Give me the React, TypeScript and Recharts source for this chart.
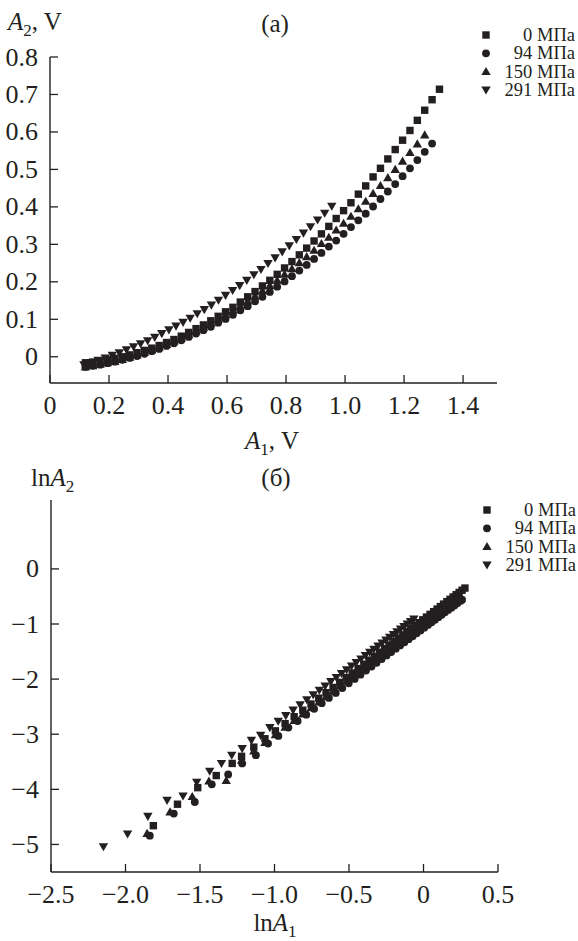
import { ScatterChart, Scatter, XAxis, YAxis } from 'recharts'

const INK = '#231f20'
const FONT = '"Liberation Serif", "Times New Roman", serif'

const pressures = ['0 МПа', '94 МПа', '150 МПа', '291 МПа']

// panel (a): A1 steps shared by 0 / 94 / 150 MPa
const a1Steps = [
  0.12, 0.145, 0.17, 0.195, 0.22, 0.245, 0.27, 0.295, 0.32, 0.345, 0.37, 0.395, 0.42, 0.445, 0.47, 0.495,
  0.52, 0.545, 0.57, 0.595, 0.62, 0.645, 0.67, 0.695, 0.72, 0.745, 0.77, 0.795, 0.82, 0.845, 0.87, 0.895,
  0.92, 0.945, 0.97, 0.995, 1.02, 1.045, 1.07, 1.095, 1.12, 1.145, 1.17, 1.195, 1.22, 1.245, 1.27, 1.295, 1.32,
]
const a2At0 = [
  -0.016, -0.014, -0.012, -0.008, -0.004, 0.0, 0.005, 0.011, 0.017, 0.023, 0.03, 0.038, 0.046, 0.055, 0.065, 0.075,
  0.085, 0.096, 0.108, 0.12, 0.132, 0.146, 0.16, 0.174, 0.189, 0.204, 0.22, 0.237, 0.254, 0.272, 0.29, 0.309,
  0.328, 0.348, 0.369, 0.39, 0.411, 0.434, 0.456, 0.48, 0.503, 0.528, 0.553, 0.578, 0.604, 0.631, 0.658, 0.686, 0.714,
]
const a2At94 = [
  -0.027, -0.024, -0.021, -0.017, -0.013, -0.008, -0.003, 0.002, 0.008, 0.015, 0.021, 0.029, 0.036, 0.044, 0.053, 0.062,
  0.071, 0.08, 0.091, 0.101, 0.112, 0.124, 0.135, 0.148, 0.16, 0.173, 0.187, 0.201, 0.215, 0.23, 0.245, 0.261,
  0.277, 0.294, 0.31, 0.328, 0.346, 0.364, 0.382, 0.401, 0.421, 0.441, 0.461, 0.482, 0.503, 0.525, 0.547, 0.569,
]
const a2At150 = [
  -0.027, -0.024, -0.02, -0.016, -0.012, -0.007, -0.001, 0.005, 0.012, 0.018, 0.026, 0.033, 0.042, 0.05, 0.059, 0.069,
  0.079, 0.09, 0.101, 0.112, 0.124, 0.136, 0.149, 0.162, 0.176, 0.19, 0.204, 0.22, 0.235, 0.251, 0.267, 0.284,
  0.302, 0.319, 0.338, 0.356, 0.375, 0.395, 0.415, 0.436, 0.457, 0.478, 0.5, 0.522, 0.545, 0.568, 0.592,
]
const a1At291 = [
  0.115, 0.139, 0.163, 0.187, 0.211, 0.235, 0.259, 0.283, 0.307, 0.331, 0.355, 0.379, 0.403, 0.427, 0.451, 0.475,
  0.499, 0.523, 0.547, 0.571, 0.595, 0.619, 0.643, 0.667, 0.691, 0.715, 0.739, 0.763, 0.787, 0.811, 0.835, 0.859,
  0.883, 0.907, 0.931, 0.955,
]
const a2At291 = [
  -0.021, -0.015, -0.009, -0.003, 0.004, 0.011, 0.019, 0.027, 0.035, 0.043, 0.052, 0.062, 0.072, 0.082, 0.092, 0.103,
  0.115, 0.126, 0.138, 0.151, 0.164, 0.177, 0.19, 0.204, 0.219, 0.233, 0.249, 0.264, 0.28, 0.296, 0.313, 0.33,
  0.347, 0.365, 0.383, 0.402,
]

// panel (б): lnA1 / lnA2
const lnA1At0 = [
  -1.813, -1.651, -1.515, -1.391, -1.284, -1.221, -1.139, -1.064, -0.994, -0.929, -0.868, -0.81, -0.755, -0.703, -0.654,
  -0.607, -0.562, -0.519, -0.478, -0.439, -0.4, -0.364, -0.329, -0.294, -0.261, -0.229, -0.198, -0.168, -0.139, -0.111,
  -0.083, -0.057, -0.03, -0.005, 0.02, 0.044, 0.068, 0.091, 0.113, 0.135, 0.157, 0.178, 0.199, 0.219, 0.239, 0.259, 0.278,
]
const lnA2At0 = [
  -4.66, -4.27, -3.97, -3.75, -3.53, -3.401, -3.234, -3.082, -2.939, -2.807, -2.682, -2.564, -2.452, -2.346, -2.246,
  -2.151, -2.059, -1.971, -1.888, -1.808, -1.729, -1.656, -1.584, -1.513, -1.446, -1.381, -1.318, -1.256, -1.197, -1.14,
  -1.083, -1.03, -0.975, -0.924, -0.874, -0.825, -0.776, -0.729, -0.684, -0.639, -0.594, -0.552, -0.509, -0.468, -0.427, -0.387, -0.348,
]
const lnA1At94 = [
  -1.837, -1.676, -1.535, -1.421, -1.311, -1.217, -1.125, -1.043, -0.974, -0.907, -0.845,
  -0.787, -0.734, -0.683, -0.635, -0.589, -0.545, -0.502, -0.462, -0.423, -0.386, -0.349, -0.315, -0.281, -0.248, -0.217,
  -0.186, -0.157, -0.128, -0.1, -0.073, -0.046, -0.02, 0.005, 0.03, 0.054, 0.077, 0.1, 0.122, 0.144, 0.166, 0.187, 0.207,
  0.227, 0.247, 0.259,
]
const lnA2At94 = [
  -4.84, -4.44, -4.23, -3.91, -3.73, -3.53, -3.38, -3.17, -3.03, -2.88, -2.76,
  -2.645, -2.539, -2.437, -2.342, -2.25, -2.162, -2.077, -1.997, -1.919, -1.845, -1.772, -1.704, -1.636, -1.57, -1.509,
  -1.447, -1.389, -1.331, -1.275, -1.222, -1.168, -1.116, -1.066, -1.016, -0.969, -0.923, -0.877, -0.833, -0.789, -0.745, -0.703, -0.664,
  -0.624, -0.584, -0.56,
]
const lnA1At150 = [
  -1.855, -1.701, -1.552, -1.44, -1.324,
  -1.221, -1.139, -1.064, -0.994, -0.929, -0.868, -0.81, -0.755, -0.703, -0.654, -0.607, -0.562, -0.519, -0.478, -0.439,
  -0.4, -0.364, -0.329, -0.294, -0.261, -0.229, -0.198, -0.168, -0.139, -0.111, -0.083, -0.057, -0.03, -0.005, 0.02,
  0.044, 0.068, 0.091, 0.113, 0.135, 0.157, 0.178, 0.199, 0.219, 0.239,
]
const lnA2At150 = [
  -4.8, -4.41, -4.13, -3.85, -3.84,
  -3.471, -3.304, -3.151, -3.008, -2.875, -2.751, -2.632, -2.52, -2.414, -2.314, -2.218, -2.126, -2.038, -1.954, -1.874,
  -1.795, -1.721, -1.65, -1.578, -1.511, -1.446, -1.382, -1.321, -1.262, -1.205, -1.148, -1.094, -1.039, -0.988, -0.937,
  -0.888, -0.839, -0.792, -0.747, -0.702, -0.657, -0.615, -0.572, -0.531, -0.49,
]
const lnA1At291 = [
  -2.148, -1.986, -1.85, -1.721, -1.614, -1.522, -1.435, -1.356, -1.287, -1.217, -1.155, -1.093, -1.031,
  -0.975, -0.924, -0.875, -0.828, -0.783, -0.74, -0.699, -0.66, -0.622, -0.585, -0.55, -0.516, -0.483, -0.451, -0.42,
  -0.39, -0.361, -0.333, -0.305, -0.278, -0.252, -0.227, -0.202, -0.178, -0.154, -0.131, -0.109, -0.087, -0.065,
]
const lnA2At291 = [
  -5.04, -4.81, -4.49, -4.2, -4.12, -3.87, -3.67, -3.53, -3.38, -3.26, -3.11, -3.02, -2.88,
  -2.765, -2.661, -2.561, -2.466, -2.374, -2.286, -2.202, -2.123, -2.045, -1.97, -1.898, -1.829, -1.762, -1.697, -1.633,
  -1.572, -1.513, -1.456, -1.399, -1.344, -1.291, -1.24, -1.189, -1.14, -1.091, -1.044, -0.999, -0.954, -0.909,
]

const topXTicks = [0, 0.2, 0.4, 0.6, 0.8, 1.0, 1.2, 1.4]
const topYTicks = [0, 0.1, 0.2, 0.3, 0.4, 0.5, 0.6, 0.7, 0.8]
const lnXTicks = [-2.5, -2.0, -1.5, -1.0, -0.5, 0, 0.5]
const lnYTicks = [-5, -4, -3, -2, -1, 0]

const zip = (xs: number[], ys: number[]) => xs.map((x, i) => ({ x, y: ys[i] }))

// markers
const Square = (p: any) => <rect x={p.cx - 3.7} y={p.cy - 3.7} width={7.4} height={7.4} fill={INK} />
const Dot = (p: any) => <circle cx={p.cx} cy={p.cy} r={3.9} fill={INK} />
const TriUp = (p: any) => (
  <polygon points={`${p.cx},${p.cy - 4.6} ${p.cx + 4.7},${p.cy + 3.5} ${p.cx - 4.7},${p.cy + 3.5}`} fill={INK} />
)
const TriDown = (p: any) => (
  <polygon points={`${p.cx},${p.cy + 4.6} ${p.cx + 4.7},${p.cy - 3.5} ${p.cx - 4.7},${p.cy - 3.5}`} fill={INK} />
)
const markers = [Square, Dot, TriUp, TriDown]

const minus = (v: number, digits: number) => {
  if (v === 0) return '0'
  const s = Math.abs(v).toFixed(digits)
  return v < 0 ? '\u2212' + s : s
}

// tickSize/tickMargin are 0, so x / y land right on the axis line
const LeftTick = ({ x, y, payload, digits }: any) => (
  <g>
    <line x1={x} x2={x + 8} y1={y} y2={y} stroke={INK} strokeWidth={1.3} />
    <text x={x - 12} y={y} textAnchor="end" dominantBaseline="central" fontSize={26} fill={INK} fontFamily={FONT}>
      {minus(payload.value, digits)}
    </text>
  </g>
)

const BottomTick = ({ x, y, payload, digits }: any) => (
  <g>
    <line x1={x} x2={x} y1={y} y2={y - 8} stroke={INK} strokeWidth={1.3} />
    <text x={x} y={y + 22} textAnchor="middle" dominantBaseline="central" fontSize={26} fill={INK} fontFamily={FONT}>
      {minus(payload.value, digits)}
    </text>
  </g>
)

const LegendBox = ({ left, top }: { left: number; top: number }) => (
  <svg style={{ position: 'absolute', left, top }} width={100} height={80}>
    {pressures.map((name, i) => {
      const M = markers[i]
      const cy = 9 + i * 18.3
      return (
        <g key={name}>
          <M cx={8} cy={cy} />
          <text x={97} y={cy} textAnchor="end" dominantBaseline="central" fontSize={18.5} fill={INK} fontFamily={FONT}>
            {name}
          </text>
        </g>
      )
    })}
  </svg>
)

const Caption = ({ x, y, center, children }: any) => (
  <div
    style={{
      position: 'absolute',
      left: x,
      top: y,
      transform: center ? 'translate(-50%, -50%)' : 'translateY(-50%)',
      fontSize: 25,
      lineHeight: 1,
      whiteSpace: 'nowrap',
      color: INK,
    }}
  >
    {children}
  </div>
)

const Sub = ({ children }: any) => (
  <span style={{ fontSize: 17, position: 'relative', top: 6 }}>{children}</span>
)

const axisLine = { stroke: INK, strokeWidth: 1.4 }

export default function App() {
  const topSeries = [
    zip(a1Steps, a2At0),
    zip(a1Steps.slice(0, a2At94.length), a2At94),
    zip(a1Steps.slice(0, a2At150.length), a2At150),
    zip(a1At291, a2At291),
  ]
  const lnSeries = [
    zip(lnA1At0, lnA2At0),
    zip(lnA1At94, lnA2At94),
    zip(lnA1At150, lnA2At150),
    zip(lnA1At291, lnA2At291),
  ]

  return (
    <div
      style={{
        position: 'absolute',
        left: 0,
        top: 0,
        width: 578,
        height: 941,
        background: '#fff',
        fontFamily: FONT,
        overflow: 'hidden',
      }}
    >
      <div style={{ position: 'absolute', left: 0, top: 0 }}>
        <ScatterChart width={578} height={470} margin={{ top: 57, right: 81, bottom: 86, left: 49 }}>
          <XAxis
            type="number"
            dataKey="x"
            domain={[0, 1.515]}
            ticks={topXTicks}
            interval={0}
            height={1}
            tickSize={0}
            tickMargin={0}
            axisLine={axisLine}
            tickLine={false}
            tick={(p: any) => <BottomTick {...p} digits={1} />}
          />
          <YAxis
            type="number"
            dataKey="y"
            domain={[-0.07, 0.8]}
            ticks={topYTicks}
            interval={0}
            width={1}
            tickSize={0}
            tickMargin={0}
            axisLine={axisLine}
            tickLine={false}
            tick={(p: any) => <LeftTick {...p} digits={1} />}
          />
          {topSeries.map((data, i) => (
            <Scatter key={pressures[i]} name={pressures[i]} data={data} shape={markers[i]} isAnimationActive={false} />
          ))}
        </ScatterChart>
      </div>

      <div style={{ position: 'absolute', left: 0, top: 470 }}>
        <ScatterChart width={578} height={471} margin={{ top: 30, right: 80, bottom: 68, left: 50 }}>
          <XAxis
            type="number"
            dataKey="x"
            domain={[-2.5, 0.5]}
            ticks={lnXTicks}
            interval={0}
            height={1}
            tickSize={0}
            tickMargin={0}
            axisLine={axisLine}
            tickLine={false}
            tick={(p: any) => <BottomTick {...p} digits={1} />}
          />
          <YAxis
            type="number"
            dataKey="y"
            domain={[-5.5, 1.25]}
            ticks={lnYTicks}
            interval={0}
            width={1}
            tickSize={0}
            tickMargin={0}
            axisLine={axisLine}
            tickLine={false}
            tick={(p: any) => <LeftTick {...p} digits={0} />}
          />
          {lnSeries.map((data, i) => (
            <Scatter key={pressures[i]} name={pressures[i]} data={data} shape={markers[i]} isAnimationActive={false} />
          ))}
        </ScatterChart>
      </div>

      <LegendBox left={478} top={26} />
      <LegendBox left={479} top={501} />

      <Caption x={8} y={21}>
        <i>A</i>
        <Sub>2</Sub>, V
      </Caption>
      <Caption x={275} y={23} center>
        (a)
      </Caption>
      <Caption x={272} y={440} center>
        <i>A</i>
        <Sub>1</Sub>, V
      </Caption>
      <Caption x={276} y={477} center>
        (б)
      </Caption>
      <Caption x={31} y={477}>
        ln<i>A</i>
        <Sub>2</Sub>
      </Caption>
      <Caption x={275} y={922} center>
        ln<i>A</i>
        <Sub>1</Sub>
      </Caption>
    </div>
  )
}
